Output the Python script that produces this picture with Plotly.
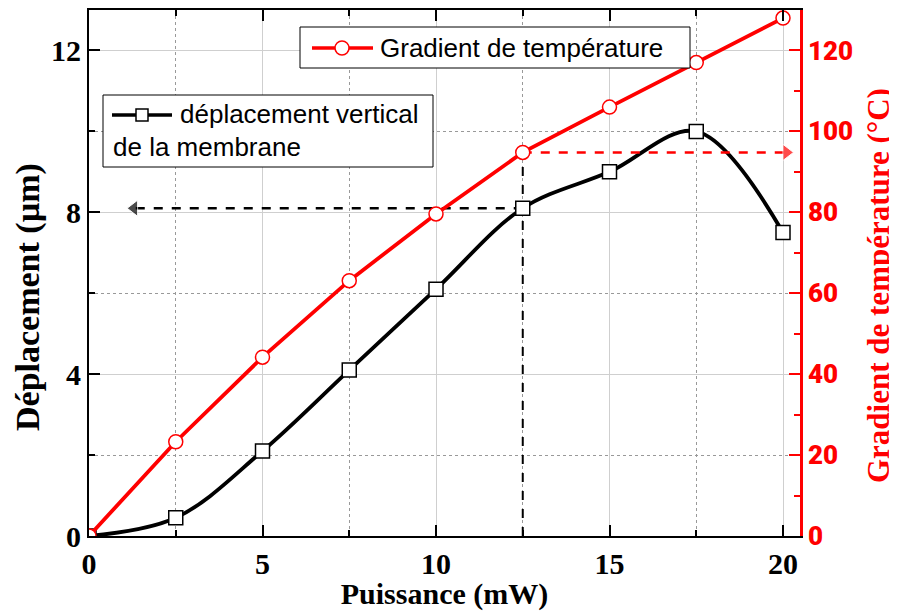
import plotly.graph_objects as go

# data
puissance = [0, 2.5, 5, 7.5, 10, 12.5, 15, 17.5, 20]
deplacement = [0, 0.45, 2.1, 4.1, 6.1, 8.1, 9.0, 10.0, 7.5]
gradient = [0, 23.3, 44.2, 63.1, 79.6, 94.8, 106.0, 117.0, 128.0]

# operating point used for the dashed guide arrows
i_op = 5
x_arrow_left = 1.3
x_arrow_right = 20.1

serif = "Liberation Serif"
sans = "Liberation Sans"

# the page body has an 8px margin, so the figure starts at (8, 8) in the window
OFF = 8
W, H = 897 - OFF, 611 - OFF
ML, MR, MT, MB = 89 - OFF, 97, 10 - OFF, 75
PW, PH = W - ML - MR, H - MT - MB


def px(x):
    # window pixel -> paper coordinate
    return (x - OFF - ML) / PW


def py(y):
    return (H - MB - (y - OFF)) / PH


fig = go.Figure()

# guide lines
x_op = puissance[i_op]
fig.add_trace(go.Scatter(x=[x_op, x_op], y=[0, gradient[i_op] / 10], mode="lines",
                         line=dict(color="black", width=2, dash="dash"),
                         showlegend=False, hoverinfo="skip"))
fig.add_trace(go.Scatter(x=[x_op, x_arrow_left], y=[deplacement[i_op]] * 2, mode="lines+markers",
                         line=dict(color="black", width=2.5, dash="dash"),
                         marker=dict(symbol=["circle", "triangle-left"], size=[0, 14], color="black"),
                         showlegend=False, hoverinfo="skip"))
fig.add_trace(go.Scatter(x=[x_op, x_arrow_right], y=[gradient[i_op]] * 2, mode="lines+markers", yaxis="y2",
                         line=dict(color="red", width=2.5, dash="dash"),
                         marker=dict(symbol=["circle", "triangle-right"], size=[0, 14], color="red"),
                         showlegend=False, hoverinfo="skip"))

fig.add_trace(go.Scatter(x=puissance, y=deplacement, mode="lines+markers", showlegend=False,
                         line=dict(color="black", width=3.8, shape="spline"),
                         marker=dict(symbol="square", size=14, color="white",
                                     line=dict(color="black", width=1.5))))
fig.add_trace(go.Scatter(x=puissance, y=gradient, mode="lines+markers", yaxis="y2", showlegend=False,
                         line=dict(color="red", width=3.8),
                         marker=dict(symbol="circle", size=14, color="white",
                                     line=dict(color="red", width=1.5))))

# hand-made legend boxes (Origin style, long sample line, wrapped text)
shapes = [
    dict(type="rect", xref="paper", yref="paper", x0=px(300), x1=px(690), y0=py(68), y1=py(27),
         line=dict(color="black", width=1), fillcolor="white", layer="above"),
    dict(type="line", xref="paper", yref="paper", x0=px(312), x1=px(373), y0=py(48), y1=py(48),
         line=dict(color="red", width=3.5), layer="above"),
    dict(type="circle", xref="paper", yref="paper", xsizemode="pixel", ysizemode="pixel",
         xanchor=px(342), yanchor=py(48), x0=-7, x1=7, y0=-7, y1=7,
         line=dict(color="red", width=1.5), fillcolor="white", layer="above"),
    dict(type="rect", xref="paper", yref="paper", x0=px(103), x1=px(433), y0=py(167), y1=py(95),
         line=dict(color="black", width=1), fillcolor="white", layer="above"),
    dict(type="line", xref="paper", yref="paper", x0=px(112), x1=px(172), y0=py(115), y1=py(115),
         line=dict(color="black", width=3.5), layer="above"),
    dict(type="rect", xref="paper", yref="paper", xsizemode="pixel", ysizemode="pixel",
         xanchor=px(142), yanchor=py(115), x0=-6, x1=6, y0=-6, y1=6,
         line=dict(color="black", width=1.5), fillcolor="white", layer="above"),
]

legfont = dict(family=sans, size=26, color="black")
annotations = [
    dict(text="Gradient de température", xref="paper", yref="paper", x=px(378), y=py(48),
         xanchor="left", yanchor="middle", showarrow=False, font=legfont),
    dict(text="déplacement vertical", xref="paper", yref="paper", x=px(178), y=py(114),
         xanchor="left", yanchor="middle", showarrow=False, font=legfont),
    dict(text="de la membrane", xref="paper", yref="paper", x=px(111), y=py(147),
         xanchor="left", yanchor="middle", showarrow=False, font=legfont),
    # y axis titles (placed like in the reference, slightly below the axis centre)
    dict(text="Déplacement (µm)", textangle=-90, xref="paper", yref="paper", x=px(28), y=py(297),
         xanchor="center", yanchor="middle", showarrow=False,
         font=dict(family=serif, size=34, color="black", weight="bold")),
    dict(text="Gradient de température (°C)", textangle=-90, xref="paper", yref="paper", x=px(878),
         y=py(286), xanchor="center", yanchor="middle", showarrow=False,
         font=dict(family=serif, size=31, color="red", weight="bold")),
]

tickfont = dict(family=serif, size=30, color="black", weight="bold")

fig.update_layout(
    width=W, height=H,
    margin=dict(l=ML, r=MR, t=MT, b=MB),
    plot_bgcolor="white", paper_bgcolor="white",
    shapes=shapes, annotations=annotations,
    xaxis=dict(range=[0, 20.49], dtick=5, tick0=0, showline=True, linecolor="black", linewidth=2,
               mirror="ticks", ticks="inside", ticklen=11, tickwidth=2, tickcolor="black",
               tickfont=tickfont, showgrid=True, gridcolor="#cfcfcf", gridwidth=1, zeroline=False,
               automargin=False,
               minor=dict(dtick=2.5, ticks="inside", ticklen=6, tickwidth=2, tickcolor="black",
                          showgrid=True, gridcolor="#999999", griddash="dot", gridwidth=1),
               title=dict(text="Puissance (mW)", font=dict(family=serif, size=30, color="black", weight="bold"),
                          standoff=2)),
    yaxis=dict(range=[0, 13], dtick=4, tick0=0, showline=True, linecolor="black", linewidth=2,
               ticks="inside", ticklen=11, tickwidth=2, tickcolor="black", tickfont=tickfont,
               showgrid=True, gridcolor="#cfcfcf", gridwidth=1, zeroline=False, automargin=False,
               minor=dict(dtick=2, ticks="inside", ticklen=6, tickwidth=2, tickcolor="black",
                          showgrid=True, gridcolor="#999999", griddash="dot", gridwidth=1)),
    yaxis2=dict(range=[0, 130], dtick=20, tick0=0, overlaying="y", side="right", showline=True,
                linecolor="red", linewidth=2.5, ticks="inside", ticklen=11, tickwidth=2, tickcolor="red",
                tickfont=dict(family="Roboto", size=26, color="red", weight=900), showgrid=False,
                zeroline=False, automargin=False,
                minor=dict(dtick=10, tick0=0, ticks="inside", ticklen=6, tickwidth=2, tickcolor="red")),
)

fig.write_html("out.html")
